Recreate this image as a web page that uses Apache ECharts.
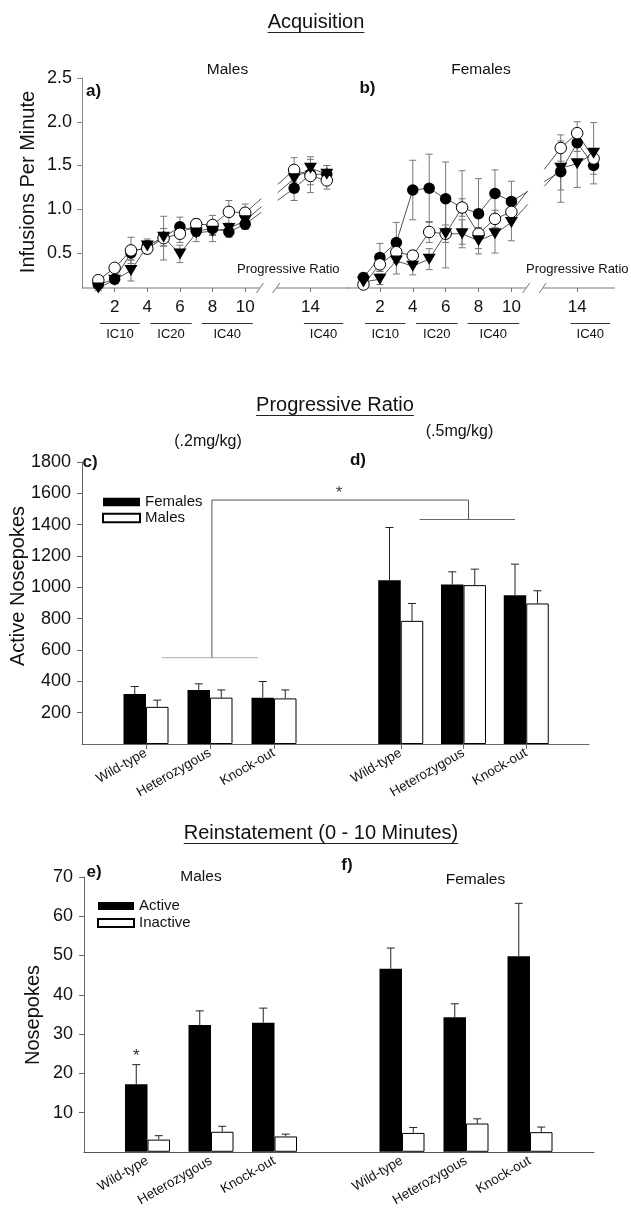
<!DOCTYPE html>
<html><head><meta charset="utf-8">
<script src="https://cdn.jsdelivr.net/npm/echarts@6/dist/echarts.min.js"></script>
<style>html,body{margin:0;padding:0;background:#fff}#c{width:631px;height:1209px}</style>
</head><body><div id="c"></div>
<script>
// ---------------- DATA ----------------
// Acquisition (infusions per minute) by day
const acqDays = [1, 2, 3, 4, 5, 6, 7, 8, 9, 10, 13, 14, 15];
const acqTickDays = [2, 4, 6, 8, 10, 14];
const acqYTicks = [0.5, 1.0, 1.5, 2.0, 2.5];
const acqBreak = [10.9, 11.9];
const icLabels = ['IC10', 'IC20', 'IC40', 'IC40'];
const icSpans = [[1.1, 3.55], [4.2, 6.72], [7.33, 10.46], [13.6, 16.0]];

// Males (panel a)
const maleFilled    = [0.14, 0.20, 0.50, 0.58, 0.68, 0.80, 0.75, 0.78, 0.74, 0.83, 1.24, 1.40, 1.40];
const maleFilledSE  = [0.03, 0.04, 0.08, 0.06, 0.10, 0.11, 0.06, 0.08, 0.06, 0.06, 0.14, 0.12, 0.10];
const maleOpen      = [0.19, 0.33, 0.53, 0.55, 0.67, 0.72, 0.83, 0.82, 0.97, 0.96, 1.45, 1.38, 1.33];
const maleOpenSE    = [0.03, 0.04, 0.15, 0.06, 0.25, 0.10, 0.06, 0.11, 0.13, 0.10, 0.14, 0.19, 0.10];
const maleTri       = [0.10, 0.19, 0.30, 0.58, 0.68, 0.49, 0.73, 0.75, 0.78, 0.87, 1.35, 1.47, 1.40];
const maleTriSE     = [0.03, 0.04, 0.12, 0.08, 0.10, 0.10, 0.10, 0.12, 0.06, 0.06, 0.10, 0.13, 0.10];
// Females (panel b)
const femFilled     = [0.22, 0.45, 0.62, 1.22, 1.24, 1.12, 1.02, 0.95, 1.18, 1.09, 1.43, 1.76, 1.50];
const femFilledSE   = [0.05, 0.16, 0.23, 0.34, 0.39, 0.42, 0.42, 0.40, 0.27, 0.23, 0.35, 0.10, 0.10];
const femOpen       = [0.14, 0.37, 0.51, 0.47, 0.74, 0.72, 1.02, 0.72, 0.89, 0.97, 1.70, 1.87, 1.58];
const femOpenSE     = [0.04, 0.08, 0.12, 0.06, 0.12, 0.10, 0.10, 0.07, 0.10, 0.10, 0.15, 0.13, 0.10];
const femTri        = [0.17, 0.20, 0.41, 0.35, 0.43, 0.72, 0.72, 0.64, 0.72, 0.85, 1.47, 1.52, 1.64];
const femTriSE      = [0.03, 0.06, 0.15, 0.10, 0.12, 0.39, 0.16, 0.15, 0.22, 0.21, 0.25, 0.27, 0.35];

// Genotype categories
const genotypes = ['Wild-type', 'Heterozygous', 'Knock-out'];

// Progressive ratio active nosepokes
const pr02Females   = [319, 345, 296];
const pr02FemalesSE = [48, 39, 103];
const pr02Males     = [237, 296, 291];
const pr02MalesSE   = [43, 49, 54];
const pr05Females   = [1045, 1018, 950];
const pr05FemalesSE = [337, 81, 198];
const pr05Males     = [786, 1014, 897];
const pr05MalesSE   = [111, 102, 81];
const prStarValue = 1620;
const bracketLowC = [1.25, 2.75, 551];   // [fromIdx, toIdx, value]
const bracketTop = [2.03, 2.08, 1557];   // [c idx, d idx, value]
const bracketLowD = [1.30, 2.82, 1433];

// Reinstatement nosepokes (0-10 min)
const reinMaleActive     = [17.2, 32.3, 32.9];
const reinMaleActiveSE   = [5.0, 3.6, 3.7];
const reinMaleInactive   = [3.1, 5.1, 3.9];
const reinMaleInactiveSE = [1.0, 1.4, 0.6];
const reinFemActive      = [46.6, 34.3, 49.8];
const reinFemActiveSE    = [5.3, 3.4, 13.5];
const reinFemInactive    = [4.8, 7.2, 5.0];
const reinFemInactiveSE  = [1.4, 1.2, 1.3];
const reinStarValue = 25;

// ---------------- STYLE ----------------
const FONT = '"Liberation Sans", Arial, Helvetica, sans-serif';
const TXT = '#111';
const BAR_W = 22.5;
const ACQ_YMIN = 0.1, ACQ_YMAX = 2.5, ACQ_XMAX = 16.3;
const axisCats = [''].concat(genotypes, ['']);
const pad = arr => [null].concat(arr, [null]);

const chart = echarts.init(document.getElementById('c'));

const grids = [
  {left: 82, top: 78, width: 266, height: 210},
  {left: 347, top: 78, width: 268, height: 210},
  {left: 82, top: 462, width: 256, height: 282},
  {left: 338, top: 462, width: 251, height: 282},
  {left: 84, top: 877, width: 254, height: 278},
  {left: 338, top: 877, width: 256, height: 278}
];

function acqX(gi) {
  return {type: 'value', gridIndex: gi, min: 0, max: ACQ_XMAX,
    axisLine: {show: false}, splitLine: {show: false},
    axisTick: {show: true, customValues: acqTickDays, length: 4, lineStyle: {color: '#777'}},
    axisLabel: {customValues: acqTickDays, fontSize: 17, color: TXT, margin: 11, fontFamily: FONT}};
}
function acqY(gi, show) {
  return {type: 'value', gridIndex: gi, min: ACQ_YMIN, max: ACQ_YMAX, show: show,
    splitLine: {show: false},
    axisLine: {show: true, lineStyle: {color: '#888'}},
    axisTick: {show: true, customValues: acqYTicks, length: 5, lineStyle: {color: '#888'}},
    axisLabel: {customValues: acqYTicks, formatter: v => v.toFixed(1), fontSize: 18, color: TXT, margin: 10, fontFamily: FONT}};
}
function catX(gi, lineColor, ticks) {
  return {type: 'category', gridIndex: gi, data: axisCats, boundaryGap: false,
    axisLine: {show: true, lineStyle: {color: lineColor}},
    axisTick: {show: ticks, interval: (i) => i > 0 && i < axisCats.length - 1, length: 5, lineStyle: {color: lineColor}},
    axisLabel: {interval: 0, rotate: 30, fontSize: 13.5, color: TXT, margin: 8, fontFamily: FONT},
    splitLine: {show: false}};
}
function valY(gi, max, interval, show) {
  return {type: 'value', gridIndex: gi, min: 0, max: max, interval: interval, show: show,
    splitLine: {show: false},
    axisLine: {show: true, lineStyle: {color: '#666'}},
    axisTick: {show: true, length: 5, lineStyle: {color: '#666'}},
    axisLabel: {showMinLabel: false, formatter: v => String(v), fontSize: 18, color: TXT, margin: 11, fontFamily: FONT}};
}

// broken x axis line of the acquisition panels
function brokenAxis(gi) {
  return {type: 'custom', xAxisIndex: gi, yAxisIndex: gi, clip: false, silent: true, z: 1,
    data: [[0, ACQ_YMIN]],
    renderItem(params, api) {
      const y = api.coord([0, ACQ_YMIN])[1];
      const xs = api.coord([0, ACQ_YMIN])[0];
      const xa = api.coord([acqBreak[0], ACQ_YMIN])[0];
      const xb = api.coord([acqBreak[1], ACQ_YMIN])[0];
      const xe = api.coord([ACQ_XMAX, ACQ_YMIN])[0];
      const st = {stroke: '#777', lineWidth: 1};
      return {type: 'group', children: [
        {type: 'line', shape: {x1: xs, y1: y, x2: xa, y2: y}, style: st},
        {type: 'line', shape: {x1: xb, y1: y, x2: xe, y2: y}, style: st},
        {type: 'line', shape: {x1: xa - 3.5, y1: y + 5, x2: xa + 3.5, y2: y - 5}, style: st},
        {type: 'line', shape: {x1: xb - 3.5, y1: y + 5, x2: xb + 3.5, y2: y - 5}, style: st}
      ]};
    }};
}

// connecting lines (broken at the axis break) and error bars
function acqLines(gi, name, vals, errs) {
  const n = acqDays.length;
  return {type: 'custom', name: name, xAxisIndex: gi, yAxisIndex: gi, clip: false, silent: true, z: 2,
    data: acqDays.map((d, i) => [d, vals[i], errs[i]]),
    renderItem(params, api) {
      const i = params.dataIndex;
      const p = api.coord([acqDays[i], vals[i]]);
      const top = api.coord([acqDays[i], vals[i] + errs[i]]);
      const bot = api.coord([acqDays[i], vals[i] - errs[i]]);
      const es = {stroke: '#777', lineWidth: 1};
      const ls = {stroke: '#555', lineWidth: 1};
      const cap = 3.5;
      const ch = [
        {type: 'line', shape: {x1: p[0], y1: top[1], x2: p[0], y2: bot[1]}, style: es},
        {type: 'line', shape: {x1: p[0] - cap, y1: top[1], x2: p[0] + cap, y2: top[1]}, style: es},
        {type: 'line', shape: {x1: p[0] - cap, y1: bot[1], x2: p[0] + cap, y2: bot[1]}, style: es}
      ];
      if (i < n - 1) {
        const q = api.coord([acqDays[i + 1], vals[i + 1]]);
        if (acqDays[i] < acqBreak[0] && acqDays[i + 1] > acqBreak[1]) {
          const bx0 = api.coord([acqBreak[0], 1])[0] + 1.5, bx1 = api.coord([acqBreak[1], 1])[0] + 1.5;
          const t0 = (bx0 - p[0]) / (q[0] - p[0]), t1 = (bx1 - p[0]) / (q[0] - p[0]);
          ch.push({type: 'line', shape: {x1: p[0], y1: p[1], x2: bx0, y2: p[1] + t0 * (q[1] - p[1])}, style: ls});
          ch.push({type: 'line', shape: {x1: bx1, y1: p[1] + t1 * (q[1] - p[1]), x2: q[0], y2: q[1]}, style: ls});
        } else {
          ch.push({type: 'line', shape: {x1: p[0], y1: p[1], x2: q[0], y2: q[1]}, style: ls});
        }
      }
      return {type: 'group', children: ch};
    }};
}
function acqMarks(gi, name, vals, kind) {
  const s = {type: 'scatter', name: name, xAxisIndex: gi, yAxisIndex: gi, z: 3,
    data: acqDays.map((d, i) => [d, vals[i]])};
  if (kind === 'filled') { s.symbol = 'circle'; s.symbolSize = 11.5; s.itemStyle = {color: '#000', opacity: 1}; }
  if (kind === 'open') { s.symbol = 'circle'; s.symbolSize = 11.5; s.itemStyle = {color: '#fff', borderColor: '#000', borderWidth: 1, opacity: 1}; }
  if (kind === 'tri') { s.symbol = 'triangle'; s.symbolSize = [13, 11]; s.symbolRotate = 180; s.itemStyle = {color: '#000', opacity: 1}; }
  return s;
}

function bars(gi, name, vals, filled) {
  return {type: 'bar', name: name, xAxisIndex: gi, yAxisIndex: gi, data: pad(vals),
    barWidth: BAR_W, barGap: '0%',
    itemStyle: filled ? {color: '#000'} : {color: '#fff', borderColor: '#000', borderWidth: 1}};
}
function barErr(gi, vals, errs, side) {
  return {type: 'custom', xAxisIndex: gi, yAxisIndex: gi, clip: false, silent: true, z: 3,
    data: vals.map((v, i) => [i + 1, v, errs[i]]),
    renderItem(params, api) {
      const c = api.value(0), v = api.value(1), e = api.value(2);
      const p0 = api.coord([c, v]), p1 = api.coord([c, v + e]);
      const x = p0[0] + side * BAR_W / 2;
      const st = {stroke: '#222', lineWidth: 1};
      return {type: 'group', children: [
        {type: 'line', shape: {x1: x, y1: p0[1], x2: x, y2: p1[1]}, style: st},
        {type: 'line', shape: {x1: x - 4, y1: p1[1], x2: x + 4, y2: p1[1]}, style: st}
      ]};
    }};
}

const series = [
  brokenAxis(0), brokenAxis(1),
  acqLines(0, 'Filled circle', maleFilled, maleFilledSE),
  acqLines(0, 'Open circle', maleOpen, maleOpenSE),
  acqLines(0, 'Triangle', maleTri, maleTriSE),
  acqLines(1, 'Filled circle', femFilled, femFilledSE),
  acqLines(1, 'Open circle', femOpen, femOpenSE),
  acqLines(1, 'Triangle', femTri, femTriSE),
  acqMarks(0, 'Filled circle', maleFilled, 'filled'),
  acqMarks(0, 'Open circle', maleOpen, 'open'),
  acqMarks(0, 'Triangle', maleTri, 'tri'),
  acqMarks(1, 'Filled circle', femFilled, 'filled'),
  acqMarks(1, 'Open circle', femOpen, 'open'),
  acqMarks(1, 'Triangle', femTri, 'tri'),
  bars(2, 'Females', pr02Females, true), bars(2, 'Males', pr02Males, false),
  bars(3, 'Females', pr05Females, true), bars(3, 'Males', pr05Males, false),
  barErr(2, pr02Females, pr02FemalesSE, -1), barErr(2, pr02Males, pr02MalesSE, 1),
  barErr(3, pr05Females, pr05FemalesSE, -1), barErr(3, pr05Males, pr05MalesSE, 1),
  bars(4, 'Active', reinMaleActive, true), bars(4, 'Inactive', reinMaleInactive, false),
  bars(5, 'Active', reinFemActive, true), bars(5, 'Inactive', reinFemInactive, false),
  barErr(4, reinMaleActive, reinMaleActiveSE, -1), barErr(4, reinMaleInactive, reinMaleInactiveSE, 1),
  barErr(5, reinFemActive, reinFemActiveSE, -1), barErr(5, reinFemInactive, reinFemInactiveSE, 1)
];

const legendBase = {orient: 'vertical', itemGap: 0, icon: 'rect',
  textStyle: {fontSize: 15, color: TXT, fontFamily: FONT, lineHeight: 16}, selectedMode: false};

chart.setOption({
  animation: false,
  backgroundColor: '#fff',
  textStyle: {fontFamily: FONT},
  grid: grids,
  xAxis: [acqX(0), acqX(1), catX(2, '#666', true), catX(3, '#666', true), catX(4, '#555', false), catX(5, '#555', false)],
  yAxis: [acqY(0, true), acqY(1, false), valY(2, 1800, 200, true), valY(3, 1800, 200, false), valY(4, 70, 10, true), valY(5, 70, 10, false)],
  legend: [
    Object.assign({}, legendBase, {data: ['Females', 'Males'], left: 97, top: 489, itemWidth: 37, itemHeight: 8.5}),
    Object.assign({}, legendBase, {data: ['Active', 'Inactive'], left: 92, top: 892.5, itemWidth: 36, itemHeight: 8,
      textStyle: {fontSize: 15, color: TXT, fontFamily: FONT, lineHeight: 17}})
  ],
  series: series
});

// ---------------- ANNOTATIONS ----------------
const mctx = document.createElement('canvas').getContext('2d');
function textW(t, font) { mctx.font = font; return mctx.measureText(t).width; }
function txt(t, x, y, size, opts) {
  opts = opts || {};
  const font = (opts.bold ? 'bold ' : '') + size + 'px ' + FONT;
  return {type: 'text', x: x, y: y, rotation: opts.rot || 0, silent: true,
    style: {text: t, font: font, fill: opts.fill || TXT, textAlign: opts.align || 'center', textVerticalAlign: 'middle'}};
}
function line(x1, y1, x2, y2, color) {
  return {type: 'line', silent: true, shape: {x1: x1, y1: y1, x2: x2, y2: y2}, style: {stroke: color || '#111', lineWidth: 1}};
}
function underlinedTitle(t, cx, cy) {
  const w = textW(t, '20px ' + FONT);
  return [txt(t, cx, cy, 20), line(cx - w / 2, cy + 10.5, cx + w / 2, cy + 10.5, '#222')];
}
function catPx(gi, idx, val) {
  const a = chart.convertToPixel({gridIndex: gi}, [0, val]);
  const b = chart.convertToPixel({gridIndex: gi}, [1, val]);
  return [a[0] + idx * (b[0] - a[0]), a[1]];
}

const g = [];
g.push(...underlinedTitle('Acquisition', 316, 22));
g.push(...underlinedTitle('Progressive Ratio', 335, 405));
g.push(...underlinedTitle('Reinstatement (0 - 10 Minutes)', 321, 833));

// Acquisition panels
g.push(txt('Males', 227.5, 70, 15.5), txt('Females', 481, 70, 15.5));
g.push(txt('a)', 93.5, 91, 17, {bold: true}), txt('b)', 367.5, 88, 17, {bold: true}));
g.push(txt('Progressive Ratio', 237, 269, 13, {align: 'left'}), txt('Progressive Ratio', 526, 269, 13, {align: 'left'}));
g.push(txt('Infusions Per Minute', 28, 182, 20, {rot: Math.PI / 2}));
[0, 1].forEach(gi => {
  icSpans.forEach((sp, k) => {
    const p0 = chart.convertToPixel({gridIndex: gi}, [sp[0], ACQ_YMIN]);
    const p1 = chart.convertToPixel({gridIndex: gi}, [sp[1], ACQ_YMIN]);
    g.push(line(p0[0], 323.5, p1[0], 323.5, '#333'));
    g.push(txt(icLabels[k], (p0[0] + p1[0]) / 2, 334, 13));
  });
});

// Progressive ratio panels
g.push(txt('(.2mg/kg)', 208, 442, 16), txt('(.5mg/kg)', 459.5, 432, 16));
g.push(txt('c)', 90, 462, 17, {bold: true}), txt('d)', 358, 460, 17, {bold: true}));
g.push(txt('Active Nosepokes', 18.5, 586, 20, {rot: Math.PI / 2}));
{
  const l0 = catPx(2, bracketLowC[0], bracketLowC[2]), l1 = catPx(2, bracketLowC[1], bracketLowC[2]);
  g.push(line(l0[0], l0[1], l1[0], l1[1], '#aaa'));
  const v0 = catPx(2, bracketTop[0], bracketLowC[2]), v1 = catPx(2, bracketTop[0], bracketTop[2]);
  g.push(line(v0[0], v0[1], v1[0], v1[1], '#555'));
  const t1 = catPx(3, bracketTop[1], bracketTop[2]);
  g.push(line(v1[0], v1[1], t1[0], t1[1], '#555'));
  const d0 = catPx(3, bracketTop[1], bracketLowD[2]);
  g.push(line(t1[0], t1[1], d0[0], d0[1], '#555'));
  const h0 = catPx(3, bracketLowD[0], bracketLowD[2]), h1 = catPx(3, bracketLowD[1], bracketLowD[2]);
  g.push(line(h0[0], h0[1], h1[0], h1[1], '#666'));
  const s = catPx(3, 0, prStarValue);
  g.push(txt('*', s[0] + 1, s[1] + 3, 17, {fill: '#444'}));
}

// Reinstatement panels
g.push(txt('e)', 94, 872, 17, {bold: true}), txt('Males', 201, 877, 15.5));
g.push(txt('f)', 347, 865, 17, {bold: true}), txt('Females', 475.5, 880, 15.5));
g.push(txt('Nosepokes', 33, 1015, 20, {rot: Math.PI / 2}));
{
  const s = chart.convertToPixel({gridIndex: 4}, [1, reinStarValue]);
  g.push(txt('*', s[0] - BAR_W / 2, s[1] + 3, 17, {fill: '#333'}));
}

chart.setOption({graphic: g});
</script>
</body></html>
